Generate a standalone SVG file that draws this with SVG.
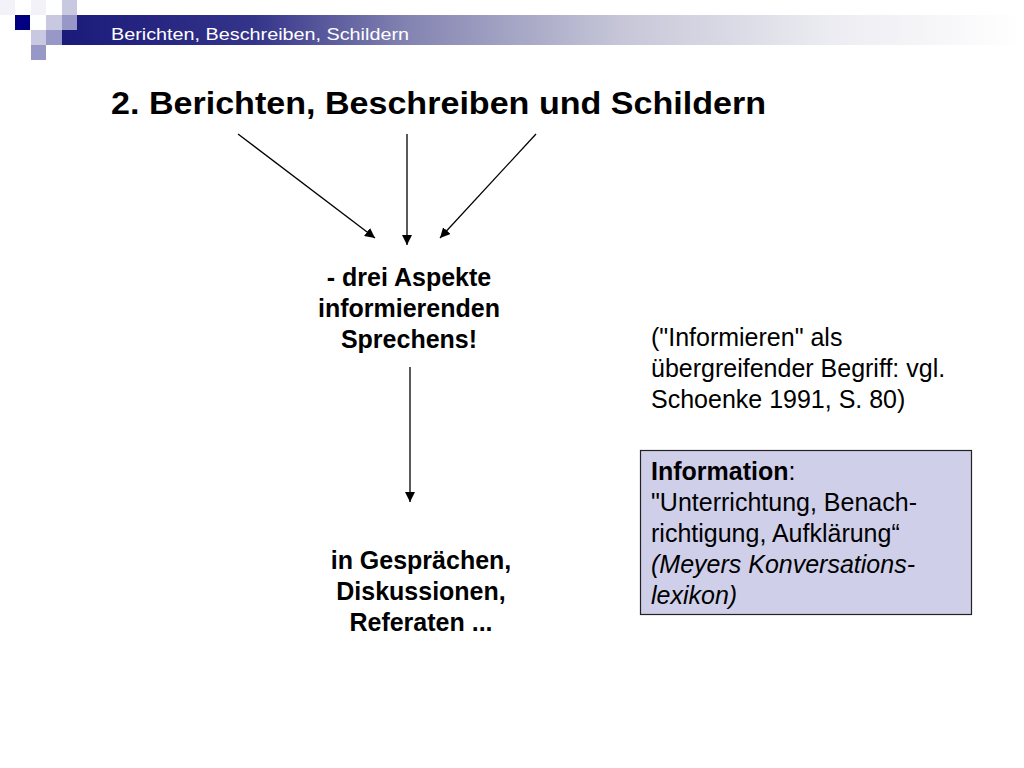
<svg xmlns="http://www.w3.org/2000/svg" width="1024" height="768" viewBox="0 0 1024 768">
<defs>
<linearGradient id="ban" gradientUnits="userSpaceOnUse" x1="62" y1="0" x2="1024" y2="0">
<stop offset="0" stop-color="#1a1a7a"/>
<stop offset="0.2" stop-color="#34348a"/>
<stop offset="0.36" stop-color="#8484b2"/>
<stop offset="0.58" stop-color="#c6c6d8"/>
<stop offset="0.8" stop-color="#ececf2"/>
<stop offset="1" stop-color="#ffffff"/>
</linearGradient>
<marker id="ah" viewBox="0 0 10 10" refX="10" refY="5" markerWidth="10" markerHeight="10" markerUnits="userSpaceOnUse" orient="auto">
<path d="M0,0 L10,5 L0,10 Z" fill="#000"/>
</marker>
<style>
.t{font-family:"Liberation Sans",Arial,sans-serif;fill:#000}
.b{font-weight:bold;font-size:25px}
.n{font-size:25px}
.bx{font-size:25px}
.c{stroke:#000;stroke-width:1.3;fill:none;marker-end:url(#ah)}
</style>
</defs>
<rect width="1024" height="768" fill="#fff"/>
<g id="header">
<rect x="62" y="15" width="962" height="30" fill="url(#ban)"/>
<rect x="0" y="0" width="15" height="15" fill="#f2f2f8"/>
<rect x="31" y="0" width="15" height="15" fill="#f2f2f8"/>
<rect x="15" y="15" width="15" height="15" fill="#000080"/>
<rect x="46" y="15" width="16" height="15" fill="#c8c8e0"/>
<rect x="62" y="0" width="15" height="15" fill="#c8c8e0"/>
<rect x="62" y="15" width="15" height="15" fill="#9898c8"/>
<rect x="31" y="30" width="15" height="15" fill="#c8c8e0"/>
<rect x="46" y="30" width="16" height="15" fill="#9898c8"/>
<rect x="31" y="45" width="15" height="15" fill="#9898c8"/>
<text x="111" y="40" font-family="Liberation Sans, Arial, sans-serif" font-size="17" fill="#fff" textLength="298" lengthAdjust="spacingAndGlyphs">Berichten, Beschreiben, Schildern</text>
</g>
<g id="title">
<text class="t" x="111" y="114" font-size="32" font-weight="bold" textLength="655" lengthAdjust="spacingAndGlyphs">2. Berichten, Beschreiben und Schildern</text>
</g>
<g id="connectors">
<line class="c" x1="238" y1="134" x2="375" y2="238"/>
<line class="c" x1="407" y1="134" x2="407" y2="245"/>
<line class="c" x1="536" y1="134" x2="440" y2="238"/>
<line class="c" x1="410" y1="367" x2="410" y2="502"/>
</g>
<g id="aspekte">
<text class="t b" text-anchor="middle"><tspan x="409" y="286">- drei Aspekte</tspan><tspan x="409" y="317">informierenden</tspan><tspan x="409" y="348">Sprechens!</tspan></text>
</g>
<g id="gespraeche">
<text class="t b" text-anchor="middle"><tspan x="421" y="569">in Gesprächen,</tspan><tspan x="421" y="600">Diskussionen,</tspan><tspan x="421" y="631">Referaten ...</tspan></text>
</g>
<g id="note">
<text class="t n"><tspan x="651" y="346">("Informieren" als</tspan><tspan x="651" y="377">übergreifender Begriff: vgl.</tspan><tspan x="651" y="408">Schoenke 1991, S. 80)</tspan></text>
</g>
<g id="infobox">
<rect x="640.5" y="450.5" width="331" height="164" fill="#cfcfe9" stroke="#222" stroke-width="1.2"/>
<text class="t bx"><tspan x="651" y="480"><tspan font-weight="bold">Information</tspan>:</tspan><tspan x="651" y="511">"Unterrichtung, Benach-</tspan><tspan x="651" y="542">richtigung, Aufklärung“</tspan><tspan x="651" y="573" font-style="italic">(Meyers Konversations-</tspan><tspan x="651" y="604" font-style="italic">lexikon)</tspan></text>
</g>
</svg>
